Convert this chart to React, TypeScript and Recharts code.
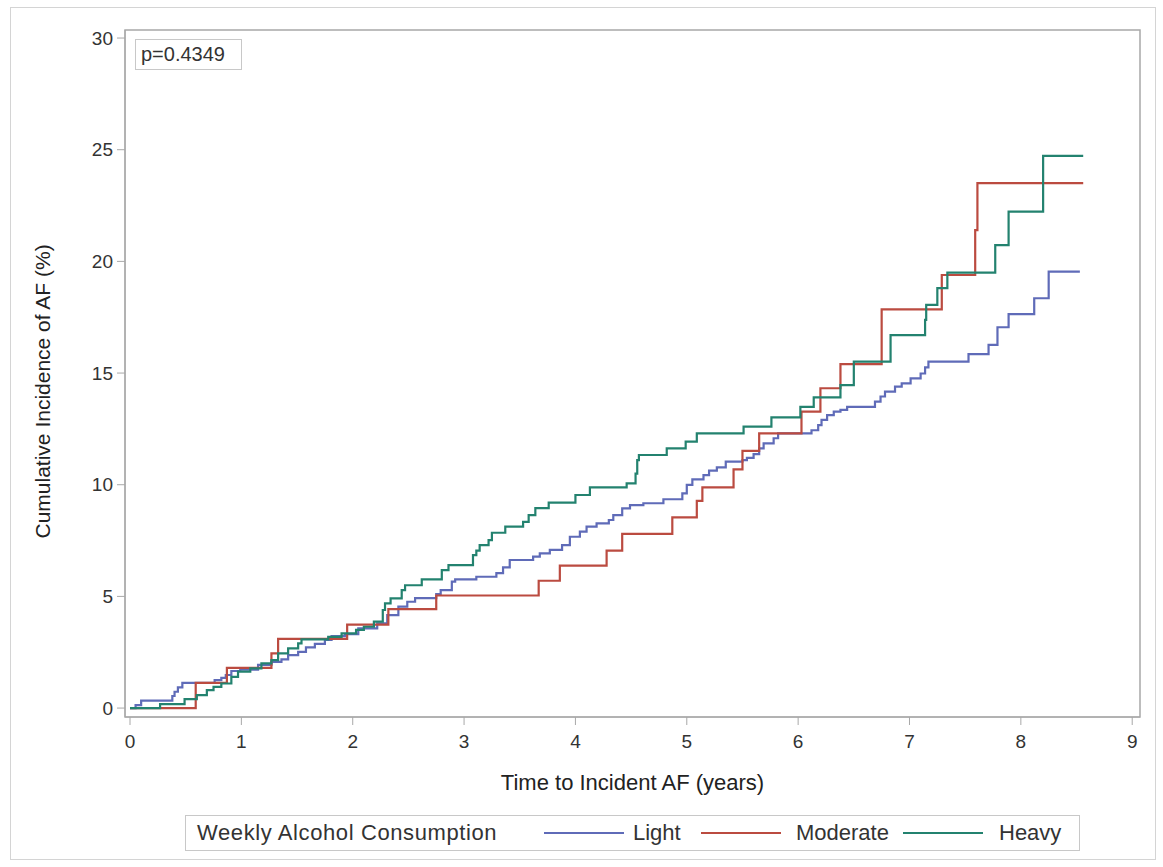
import { Line, LineChart, ReferenceArea, XAxis, YAxis } from 'recharts'

// Kaplan-Meier style cumulative incidence (years, %)
const lightTime = [0, 0.05, 0.1, 0.38, 0.4, 0.43, 0.47, 0.76, 0.82, 0.86, 0.91, 0.99, 1.15, 1.27, 1.36, 1.42, 1.51, 1.58, 1.66, 1.75, 1.81, 1.93, 2.05, 2.22, 2.31, 2.41, 2.49, 2.56, 2.75, 2.79, 2.89, 2.92, 3.11, 3.29, 3.35, 3.41, 3.62, 3.68, 3.77, 3.88, 3.95, 4.04, 4.1, 4.19, 4.3, 4.34, 4.42, 4.49, 4.61, 4.79, 4.96, 5.0, 5.05, 5.15, 5.2, 5.27, 5.35, 5.5, 5.54, 5.6, 5.65, 5.69, 5.78, 5.82, 6.12, 6.18, 6.21, 6.26, 6.32, 6.38, 6.44, 6.69, 6.74, 6.78, 6.87, 6.93, 7.01, 7.1, 7.14, 7.17, 7.53, 7.71, 7.79, 7.89, 8.12, 8.25, 8.53]
const lightPct = [0, 0.13, 0.33, 0.54, 0.73, 0.93, 1.13, 1.25, 1.35, 1.48, 1.66, 1.72, 1.93, 2.07, 2.18, 2.37, 2.52, 2.72, 2.87, 3.05, 3.22, 3.31, 3.57, 3.79, 4.16, 4.54, 4.76, 4.92, 5.1, 5.28, 5.66, 5.76, 5.88, 6.04, 6.3, 6.63, 6.78, 6.93, 7.08, 7.3, 7.67, 7.9, 8.12, 8.27, 8.42, 8.64, 8.94, 9.09, 9.17, 9.35, 9.61, 9.99, 10.24, 10.43, 10.63, 10.78, 11.03, 11.1, 11.2, 11.37, 11.63, 11.85, 12.08, 12.3, 12.44, 12.67, 12.9, 13.12, 13.27, 13.35, 13.49, 13.72, 13.95, 14.17, 14.39, 14.54, 14.76, 14.98, 15.25, 15.51, 15.85, 16.26, 17.05, 17.64, 18.35, 19.54, 19.54]

const moderateTime = [0, 0.59, 0.87, 1.27, 1.33, 1.95, 2.32, 2.75, 3.67, 3.86, 4.28, 4.42, 4.87, 5.09, 5.14, 5.42, 5.5, 5.65, 6.03, 6.2, 6.38, 6.75, 7.29, 7.59, 7.61, 8.56]
const moderatePct = [0, 1.13, 1.8, 2.45, 3.1, 3.74, 4.43, 5.04, 5.7, 6.38, 7.05, 7.8, 8.54, 9.28, 9.88, 10.69, 11.52, 12.3, 13.27, 14.32, 15.4, 17.85, 19.39, 21.4, 23.5, 23.5]

const heavyTime = [0, 0.27, 0.49, 0.6, 0.69, 0.75, 0.82, 0.91, 0.97, 1.08, 1.18, 1.27, 1.33, 1.42, 1.51, 1.54, 1.78, 1.9, 2.03, 2.1, 2.19, 2.27, 2.29, 2.34, 2.44, 2.47, 2.62, 2.8, 2.86, 3.08, 3.11, 3.14, 3.22, 3.25, 3.37, 3.53, 3.58, 3.64, 3.76, 4.0, 4.13, 4.46, 4.54, 4.555, 4.57, 4.82, 4.99, 5.09, 5.51, 5.76, 6.02, 6.14, 6.38, 6.5, 6.83, 7.14, 7.15, 7.25, 7.34, 7.77, 7.89, 8.2, 8.56]
const heavyPct = [0, 0.18, 0.4, 0.58, 0.8, 0.95, 1.1, 1.4, 1.63, 1.78, 2.0, 2.15, 2.45, 2.67, 2.9, 3.08, 3.19, 3.34, 3.5, 3.64, 3.87, 4.39, 4.69, 4.91, 5.28, 5.5, 5.76, 6.18, 6.4, 6.85, 7.05, 7.3, 7.52, 7.85, 8.12, 8.34, 8.64, 8.95, 9.2, 9.54, 9.88, 10.06, 10.5, 11.1, 11.33, 11.63, 11.93, 12.3, 12.6, 13.02, 13.49, 13.91, 14.46, 15.51, 16.7, 17.38, 18.05, 18.8, 19.5, 20.73, 22.23, 24.72, 24.72]

const xTicks = [0, 1, 2, 3, 4, 5, 6, 7, 8, 9]
const yTicks = [0, 5, 10, 15, 20, 25, 30]

const groups = ['Light', 'Moderate', 'Heavy']
const colors = ['#5f6bb8', '#bb4b40', '#23826f']

const toPoints = (t: number[], v: number[]) => t.map((x, i) => ({ t: x, pct: v[i] }))
const series = [toPoints(lightTime, lightPct), toPoints(moderateTime, moderatePct), toPoints(heavyTime, heavyPct)]

const font = '"Liberation Sans", Arial, sans-serif'
const tick = { fill: '#333', fontSize: 19, fontFamily: font }
const frame = '#a8a8a8'

// legend swatch / label x offsets inside the legend box (box starts at x=185)
const swatchLeft = [358, 515, 717]
const labelLeft = [447, 610, 813]

function LegendBox() {
  return (
    <div
      style={{
        position: 'absolute',
        left: 185,
        top: 815,
        width: 895,
        height: 36,
        border: '1px solid #c8c8c8',
        boxSizing: 'border-box',
        fontFamily: font,
        fontSize: 22,
        color: '#333',
        whiteSpace: 'nowrap',
        lineHeight: '34px',
      }}
    >
      <span style={{ position: 'absolute', left: 11, letterSpacing: 0.6 }}>Weekly Alcohol Consumption</span>
      {groups.map((g, i) => (
        <span key={g}>
          <span style={{ position: 'absolute', left: swatchLeft[i], top: 16, width: 80, height: 2, background: colors[i] }} />
          <span style={{ position: 'absolute', left: labelLeft[i] }}>{g}</span>
        </span>
      ))}
    </div>
  )
}

export default function App() {
  return (
    <div style={{ position: 'absolute', left: 0, top: 0, width: 1163, height: 867, background: '#fff' }}>
      <div
        style={{
          position: 'absolute',
          left: 10,
          top: 7,
          width: 1146,
          height: 853,
          border: '1px solid #d4d4d4',
          boxSizing: 'border-box',
        }}
      />
      <LineChart width={1163} height={867} margin={{ top: 30, right: 23, left: 65, bottom: 120 }}>
        <XAxis
          dataKey="t"
          type="number"
          domain={[-0.045, 9.07]}
          ticks={xTicks}
          allowDataOverflow
          tick={tick}
          tickSize={8}
          tickMargin={10}
          stroke={frame}
          height={30}
          label={{ value: 'Time to Incident AF (years)', position: 'bottom', offset: 27, fill: '#222', fontSize: 22, fontFamily: font }}
        />
        <YAxis
          type="number"
          domain={[-0.4, 30.36]}
          ticks={yTicks}
          allowDataOverflow
          tick={tick}
          tickSize={8}
          tickMargin={4}
          stroke={frame}
          width={60}
          label={{ value: 'Cumulative Incidence of AF (%)', angle: -90, position: 'insideLeft', offset: -22, dy: 165, fill: '#222', fontSize: 21, fontFamily: font }}
        />
        <ReferenceArea x1={-0.045} x2={9.07} y1={-0.4} y2={30.36} fill="none" stroke={frame} strokeWidth={1.5} ifOverflow="extendDomain" />
        {series.map((d, i) => (
          <Line
            key={groups[i]}
            data={d}
            dataKey="pct"
            name={groups[i]}
            type="stepAfter"
            stroke={colors[i]}
            strokeWidth={2.2}
            dot={false}
            isAnimationActive={false}
          />
        ))}
      </LineChart>
      <LegendBox />
      <div
        style={{
          position: 'absolute',
          left: 135,
          top: 39,
          width: 107,
          height: 31,
          border: '1px solid #c8c8c8',
          boxSizing: 'border-box',
          fontFamily: font,
          fontSize: 20,
          color: '#333',
          lineHeight: '29px',
          paddingLeft: 5,
        }}
      >
        p=0.4349
      </div>
    </div>
  )
}
